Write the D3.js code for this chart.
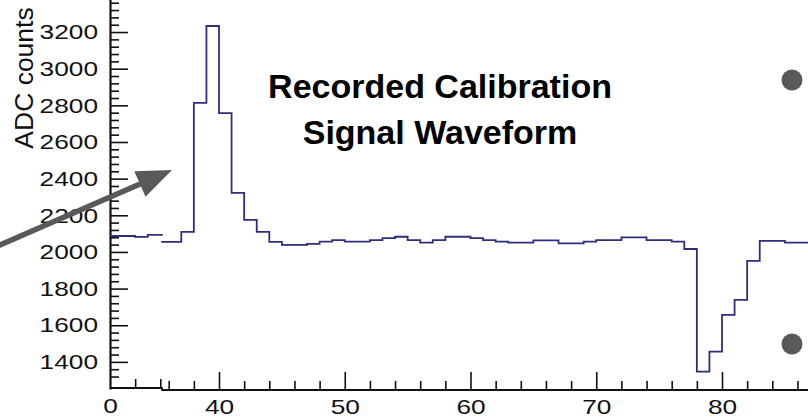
<!DOCTYPE html>
<html>
<head>
<meta charset="utf-8">
<script src="https://cdn.jsdelivr.net/npm/d3@7"></script>
<style>
  body { margin: 0; background: #fff; }
  svg { display: block; font-family: "Liberation Sans", Arial, Helvetica, sans-serif; }
</style>
</head>
<body>
<svg width="808" height="418"></svg>
<script>
// Histogram bins (ADC counts per sample)
const stubStart = 0;
const stubValues = [2087, 2087, 2082, 2093];
const mainStart = 35;
const mainValues = [
  2055, 2055, 2109, 2813, 3233, 2758, 2322, 2175, 2109, 2055, // 35-44
  2038, 2038, 2044, 2056, 2065, 2056, 2056, 2065, 2075, 2083, // 45-54
  2065, 2051, 2065, 2083, 2083, 2075, 2065, 2056, 2051, 2051, // 55-64
  2063, 2063, 2047, 2047, 2056, 2065, 2065, 2080, 2080, 2065, // 65-74
  2065, 2056, 2016, 1347, 1456, 1656, 1738, 1951, 2060, 2060, // 75-84
  2051, 2051                                                  // 85-86
];
const xTickLabels = [40, 50, 60, 70, 80];
const yTickLabels = [1400, 1600, 1800, 2000, 2200, 2400, 2600, 2800, 3000, 3200];
const titleLines = ["Recorded Calibration", "Signal Waveform"];
const yTitle = "ADC counts";

const svg = d3.select("svg");
const stretch = 1.25; // the tick labels look horizontally stretched
const fmt = d3.format("d");

// Scales
const y = d3.scaleLinear().domain([1252, 3400]).range([389, -4.6]);
const x = d3.scaleLinear().domain([40, 80]).range([219, 722]);       // main part of the broken axis
const xStub = d3.scaleLinear().domain([0, 4]).range([110, 160.3]);   // small piece near zero
const mainMin = 35.4, mainMax = 86.9, stubMax = 4.2;

// Y axis: major + minor ticks pointing inward
const yMinor = d3.range(1320, 3400, 40).filter(v => v % 200 !== 0);
const yAxisG = svg.append("g").attr("transform", "translate(110,0)");
yAxisG.call(d3.axisLeft(y).tickValues(yMinor).tickSizeInner(-9).tickSizeOuter(0).tickFormat(""));
yAxisG.append("g").call(d3.axisLeft(y).tickValues(yTickLabels).tickSizeInner(-18).tickSizeOuter(0).tickPadding(12).tickFormat(fmt))
  .call(g => g.select(".domain").remove())
  .selectAll("text")
  .attr("x", -12 / stretch)
  .attr("transform", `scale(${stretch},1)`)
  .style("font-size", "21px").attr("fill", "#111");
yAxisG.selectAll("line").attr("stroke", "#111").attr("stroke-width", 1.6);
yAxisG.select(".domain").attr("stroke", "#111").attr("stroke-width", 2.2);

// X axis, main piece
const xMinor = d3.range(36, 87, 2).filter(v => v % 10 !== 0);
const xAxisG = svg.append("g").attr("transform", "translate(0,390)");
xAxisG.call(d3.axisBottom(x).tickValues(xMinor).tickSizeInner(-9).tickSizeOuter(0).tickFormat(""));
xAxisG.append("g").call(d3.axisBottom(x).tickValues(xTickLabels).tickSizeInner(-18).tickSizeOuter(0).tickPadding(9).tickFormat(fmt))
  .call(g => g.select(".domain").remove())
  .selectAll("text")
  .attr("transform", `scale(${stretch},1)`)
  .style("font-size", "21px").attr("fill", "#111");
xAxisG.select(".domain").attr("d", `M${x(mainMin)},0H808`);

// X axis, piece near zero
const stubG = svg.append("g").attr("transform", "translate(0,388)");
stubG.call(d3.axisBottom(xStub).tickValues([2, 4]).tickSizeInner(-9).tickSizeOuter(0).tickFormat(""));
stubG.append("g").call(d3.axisBottom(xStub).tickValues([0]).tickSize(0).tickPadding(10).tickFormat(fmt))
  .call(g => g.select(".domain").remove())
  .selectAll("text")
  .attr("transform", `scale(${stretch},1)`)
  .style("font-size", "21px").attr("fill", "#111");
stubG.select(".domain").attr("d", `M${xStub(0)},0H${xStub(stubMax)}`);

[xAxisG, stubG].forEach(g => {
  g.selectAll("line").attr("stroke", "#111").attr("stroke-width", 1.6);
  g.select(".domain").attr("stroke", "#111").attr("stroke-width", 2.2);
});

// Histogram outlines (step lines)
function steps(start, values, lo, hi) {
  const pts = values.map((v, i) => [Math.max(start + i, lo), v]);
  pts.push([hi, values[values.length - 1]]);
  return pts;
}
const line = (sx) => d3.line().x(d => sx(d[0])).y(d => y(d[1])).curve(d3.curveStepAfter);

svg.append("path")
  .attr("d", line(xStub)(steps(stubStart, stubValues, 0, stubMax)))
  .attr("fill", "none").attr("stroke", "#2f2e7e").attr("stroke-width", 1.8);
svg.append("path")
  .attr("d", line(x)(steps(mainStart, mainValues, mainMin, mainMax)))
  .attr("fill", "none").attr("stroke", "#2f2e7e").attr("stroke-width", 1.8);

// Y axis title
svg.append("text")
  .attr("transform", "translate(33,78) rotate(-90)")
  .attr("text-anchor", "middle")
  .style("font-size", "26.5px").attr("fill", "#111")
  .text(yTitle);

// Title block
svg.append("g").selectAll("text").data(titleLines).join("text")
  .attr("x", 440)
  .attr("y", (d, i) => 98 + i * 46)
  .attr("text-anchor", "middle")
  .style("font-size", "34px").style("font-weight", "bold").attr("fill", "#000")
  .text(d => d);

// Slide decorations: arrow and bullet dots
const gray = "#595959";
const tip = [172, 170], tail = [0, 245];
const len = Math.hypot(tip[0] - tail[0], tip[1] - tail[1]);
const ux = (tip[0] - tail[0]) / len, uy = (tip[1] - tail[1]) / len;
const headLen = 35, headHalf = 14;
const base = [tip[0] - headLen * ux, tip[1] - headLen * uy];
svg.append("line")
  .attr("x1", tail[0] - 10 * ux).attr("y1", tail[1] - 10 * uy)
  .attr("x2", base[0] + 2 * ux).attr("y2", base[1] + 2 * uy)
  .attr("stroke", gray).attr("stroke-width", 5.5);
svg.append("polygon")
  .attr("points", [
    tip,
    [base[0] - headHalf * uy, base[1] + headHalf * ux],
    [base[0] + headHalf * uy, base[1] - headHalf * ux]
  ].map(p => p.join(",")).join(" "))
  .attr("fill", gray);

svg.selectAll("circle.dot").data([[792, 80], [792, 344]]).join("circle")
  .attr("class", "dot")
  .attr("cx", d => d[0]).attr("cy", d => d[1]).attr("r", 10.5)
  .attr("fill", gray);
</script>
</body>
</html>
